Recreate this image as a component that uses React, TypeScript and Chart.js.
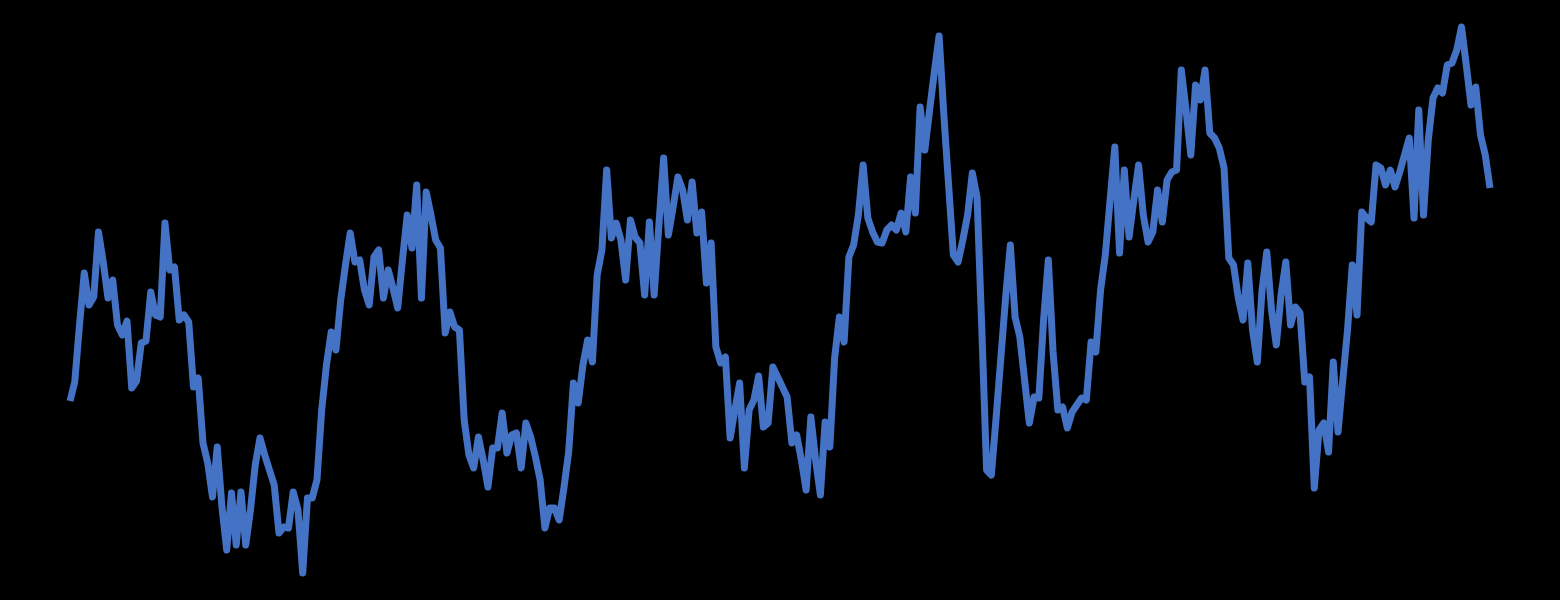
import React, { useEffect, useRef } from "react";
import { Chart, registerables } from "chart.js";

Chart.register(...registerables);

const seriesValues: number[] = [
  19.9, 21.8, 27.5, 32.7, 29.5, 30.3, 36.8, 33.8, 30.2, 32.0,
  27.5, 26.5, 27.9, 21.2, 21.9, 25.7, 25.9, 30.8, 28.5, 28.3,
  37.7, 33.0, 33.3, 28.0, 28.5, 27.8, 21.3, 22.2, 15.7, 13.7,
  10.3, 15.3, 9.3, 5.0, 10.7, 5.5, 10.8, 5.5, 9.0, 13.5,
  16.2, 14.5, 13.0, 11.5, 6.7, 7.3, 7.2, 10.8, 9.0, 2.7,
  10.2, 10.2, 12.0, 19.0, 23.5, 26.8, 25.0, 30.0, 33.5, 36.7,
  33.8, 34.0, 31.0, 29.5, 34.3, 35.0, 30.2, 33.0, 31.2, 29.2,
  34.0, 38.5, 35.2, 41.5, 30.2, 40.8, 38.5, 36.0, 35.2, 26.7,
  28.8, 27.3, 27.0, 18.0, 14.5, 13.2, 16.3, 14.0, 11.3, 15.2,
  15.2, 18.7, 14.7, 16.5, 16.7, 13.2, 17.7, 16.3, 14.3, 12.0,
  7.2, 9.2, 9.2, 8.0, 11.2, 14.8, 21.7, 19.7, 23.5, 26.0,
  23.8, 32.5, 35.0, 43.0, 36.2, 37.7, 36.0, 32.0, 38.0, 36.3,
  35.7, 30.5, 37.8, 30.5, 37.5, 44.2, 36.5, 39.3, 42.3, 41.0,
  38.0, 41.8, 36.7, 38.8, 31.7, 35.7, 25.3, 23.7, 24.3, 16.2,
  19.0, 21.7, 13.2, 19.0, 20.0, 22.4, 17.3, 17.7, 23.3, 22.3,
  21.3, 20.3, 15.7, 16.5, 14.0, 11.0, 18.3, 14.0, 10.5, 17.8,
  15.3, 24.2, 28.3, 25.8, 34.3, 35.5, 38.5, 43.5, 38.2, 36.8,
  35.8, 35.7, 37.0, 37.5, 37.0, 38.7, 36.8, 42.3, 38.7, 49.3,
  45.0, 49.0, 52.8, 56.4, 48.5, 41.5, 34.5, 33.8, 36.0, 38.5,
  42.7, 40.2, 27.0, 13.0, 12.5, 18.2, 24.2, 30.2, 35.5, 28.3,
  26.3, 22.0, 17.7, 20.3, 20.2, 28.0, 34.0, 24.8, 19.0, 19.3,
  17.2, 18.8, 19.5, 20.2, 20.0, 25.8, 24.8, 31.0, 34.5, 40.0,
  45.3, 34.7, 43.0, 36.3, 40.0, 43.5, 38.5, 35.8, 36.8, 41.0,
  37.8, 42.0, 42.8, 43.0, 53.0, 49.0, 44.5, 51.5, 50.0, 53.0,
  46.7, 46.2, 45.2, 43.2, 34.2, 33.5, 30.2, 28.0, 33.7, 27.0,
  23.8, 31.0, 34.8, 29.0, 25.5, 30.5, 33.8, 27.5, 29.3, 28.7,
  21.8, 22.3, 11.2, 17.0, 17.7, 14.8, 23.8, 16.8, 22.0, 27.0,
  33.5, 28.5, 38.8, 38.2, 37.8, 43.5, 43.2, 41.5, 43.0, 41.3,
  42.8, 44.5, 46.2, 38.2, 49.0, 38.5, 46.0, 50.2, 51.2, 50.7,
  53.5, 53.7, 55.0, 57.3, 53.5, 49.5, 51.3, 46.5, 44.5, 41.2,
];

const categories: string[] = seriesValues.map((_, i) => String(i + 1));

const yMin = 0;
const yMax = 60;
const lineColor = "#4472C4";

export default function App() {
  const canvasRef = useRef<HTMLCanvasElement | null>(null);

  useEffect(() => {
    if (!canvasRef.current) return;
    const chart = new Chart(canvasRef.current, {
      type: "line",
      data: {
        labels: categories,
        datasets: [
          {
            data: seriesValues,
            borderColor: lineColor,
            borderWidth: 7,
            pointRadius: 0,
            tension: 0,
            fill: false,
            clip: false as any,
            borderJoinStyle: "round",
            borderCapStyle: "butt",
          },
        ],
      },
      options: {
        responsive: false,
        animation: false,
        layout: { padding: { left: 70, right: 70, top: 0, bottom: 0 } },
        plugins: { legend: { display: false }, tooltip: { enabled: false } },
        scales: {
          x: { type: "category", display: false, offset: false },
          y: { display: false, min: yMin, max: yMax },
        },
      },
    });
    return () => chart.destroy();
  }, []);

  return (
    <div
      style={{
        position: "fixed",
        left: 0,
        top: 0,
        width: 1560,
        height: 600,
        background: "#000",
      }}
    >
      <canvas ref={canvasRef} width={1560} height={600} style={{ display: "block" }} />
    </div>
  );
}
